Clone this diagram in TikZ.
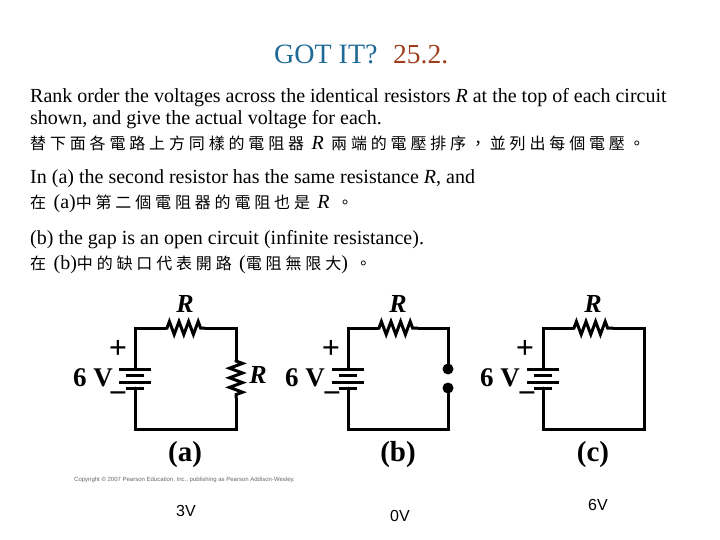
\documentclass[tikz,border=0pt]{standalone}
\usepackage{fontspec}
\setmainfont{Liberation Serif}
\setsansfont{Liberation Sans}
\newfontfamily\cjk[LetterSpace=24]{Noto Sans CJK TC}
\usetikzlibrary{decorations.pathmorphing}
\definecolor{titleblue}{RGB}{31,105,150}
\definecolor{titlebrown}{RGB}{158,62,30}
\tikzstyle{para} = [anchor=base west, inner sep=0pt, font=\fontsize{20}{20}\selectfont]
\tikzstyle{zh} = [anchor=base west, inner sep=0pt, font=\fontsize{16}{16}\selectfont\cjk]
\tikzstyle{wire} = [draw, line width=3pt, line cap=round, line join=miter]
\tikzstyle{resistor} = [draw, line width=3pt, decorate, decoration={zigzag, segment length=9.6pt, amplitude=6.5pt, pre length=1pt, post length=1pt}]
\tikzstyle{longplate} = [draw, line width=3pt]
\tikzstyle{sign} = [inner sep=0pt, font=\fontsize{32}{32}\selectfont\bfseries]
\tikzstyle{volt} = [inner sep=0pt, font=\fontsize{27}{27}\selectfont\bfseries]
\tikzstyle{rlabel} = [inner sep=0pt, font=\fontsize{26}{26}\selectfont\bfseries\itshape]
\tikzstyle{caption} = [inner sep=0pt, font=\fontsize{29}{29}\selectfont\bfseries]
\tikzstyle{answer} = [inner sep=0pt, font=\fontsize{16}{16}\selectfont\sffamily]
\tikzstyle{contact} = [circle, fill, inner sep=0pt, minimum size=11pt]
\newcommand{\rval}{\textit{R}}
\newcommand{\latin}[1]{{\rmfamily\fontsize{20}{20}\selectfont #1}}
\begin{document}
\begin{tikzpicture}[x=1pt, y=-1pt]
        \useasboundingbox (0,0) rectangle (720,540);
        % heading and question
        \node[anchor=base west, inner sep=0pt, text=titleblue, font=\fontsize{28}{28}\selectfont] (title) at (274,64) {GOT IT?};
        \node[anchor=base west, inner sep=0pt, text=titlebrown, font=\fontsize{27.5}{27.5}\selectfont] (number) at (393,64) {25.2.};
        \node[para] (q1) at (30,103) {Rank order the voltages across the identical resistors \rval{} at the top of each circuit};
        \node[para] (q2) at (30,125) {shown, and give the actual voltage for each.};
        \node[zh] (q3) at (30,150) {替下面各電路上方同樣的電阻器 \latin{\rval} 兩端的電壓排序\char"FF0C 並列出每個電壓。};
        \node[para] (q4) at (30,184) {In (a) the second resistor has the same resistance \rval, and};
        \node[zh] (q5) at (30,208) {在 \latin{(a)}中第二個電阻器的電阻也是 \latin{\rval} 。};
        \node[para] (q6) at (30,244) {(b) the gap is an open circuit (infinite resistance).};
        \node[zh] (q7) at (30,269) {在 \latin{(b)}中的缺口代表開路 \latin{(}電阻無限大\latin{)} 。};
        % circuit a
        \coordinate (atl) at (135,328);
        \coordinate (atr) at (236,328);
        \coordinate (abl) at (135,429);
        \coordinate (abr) at (236,429);
        \coordinate (ar1) at (166,328);
        \coordinate (ar2) at (205,328);
        \coordinate (ar3) at (236,360);
        \coordinate (ar4) at (236,398);
        \coordinate (abat1) at (135,369);
        \coordinate (abat2) at (135,388);
        \path[wire] (abat1) -- (atl) -- (ar1);
        \path[wire] (ar2) -- (atr) -- (ar3);
        \path[wire] (ar4) -- (abr) -- (abl) -- (abat2);
        \path[resistor] (ar1) -- (ar2);
        \path[resistor] (ar3) -- (ar4);
        \path[longplate] (119,369) -- (151,369);
        \path[longplate] (126,375) -- (144,375);
        \path[longplate] (119,382) -- (151,382);
        \path[longplate] (126,388) -- (144,388);
        \node[sign] (aplus) at (118,349) {+};
        \node[sign] (aminus) at (118,398) {−};
        \node[volt] (avolt) at (93,378) {6 V};
        \node[rlabel] (ar) at (185,304) {R};
        \node[rlabel] (ar') at (258,375) {R};
        \node[caption] (acap) at (185,455) {(a)};
        % circuit b
        \coordinate (btl) at (348,328);
        \coordinate (btr) at (448,328);
        \coordinate (bbl) at (348,429);
        \coordinate (bbr) at (448,429);
        \coordinate (br1) at (378,328);
        \coordinate (br2) at (418,328);
        \coordinate (bbat1) at (348,369);
        \coordinate (bbat2) at (348,388);
        \node[contact] (bup) at (448,369) {};
        \node[contact] (bdown) at (448,388) {};
        \path[wire] (bbat1) -- (btl) -- (br1);
        \path[wire] (br2) -- (btr) -- (bup);
        \path[wire] (bdown) -- (bbr) -- (bbl) -- (bbat2);
        \path[resistor] (br1) -- (br2);
        \path[longplate] (332,369) -- (364,369);
        \path[longplate] (339,375) -- (357,375);
        \path[longplate] (332,382) -- (364,382);
        \path[longplate] (339,388) -- (357,388);
        \node[sign] (bplus) at (331,349) {+};
        \node[sign] (bminus) at (332,398) {−};
        \node[volt] (bvolt) at (305,378) {6 V};
        \node[rlabel] (br) at (398,304) {R};
        \node[caption] (bcap) at (398,455) {(b)};
        % circuit c
        \coordinate (ctl) at (543,328);
        \coordinate (ctr) at (644,328);
        \coordinate (cbl) at (543,429);
        \coordinate (cbr) at (644,429);
        \coordinate (cr1) at (573,328);
        \coordinate (cr2) at (613,328);
        \coordinate (cbat1) at (543,369);
        \coordinate (cbat2) at (543,388);
        \path[wire] (cbat1) -- (ctl) -- (cr1);
        \path[wire] (cr2) -- (ctr) -- (cbr) -- (cbl) -- (cbat2);
        \path[resistor] (cr1) -- (cr2);
        \path[longplate] (527,369) -- (559,369);
        \path[longplate] (534,375) -- (552,375);
        \path[longplate] (527,382) -- (559,382);
        \path[longplate] (534,388) -- (552,388);
        \node[sign] (cplus) at (525,349) {+};
        \node[sign] (cminus) at (527,398) {−};
        \node[volt] (cvolt) at (500,378) {6 V};
        \node[rlabel] (cr) at (593,304) {R};
        \node[caption] (ccap) at (593,455) {(c)};
        % small print and answers
        \node[anchor=base west, inner sep=0pt, text=black!60, font=\fontsize{6}{6}\selectfont\sffamily] (copy) at (74,481) {Copyright © 2007 Pearson Education, Inc., publishing as Pearson Addison-Wesley.};
        \node[answer] (ansa) at (186,511) {3V};
        \node[answer] (ansb) at (400,516) {0V};
        \node[answer] (ansc) at (598,505) {6V};
    \end{tikzpicture}
\end{document}
